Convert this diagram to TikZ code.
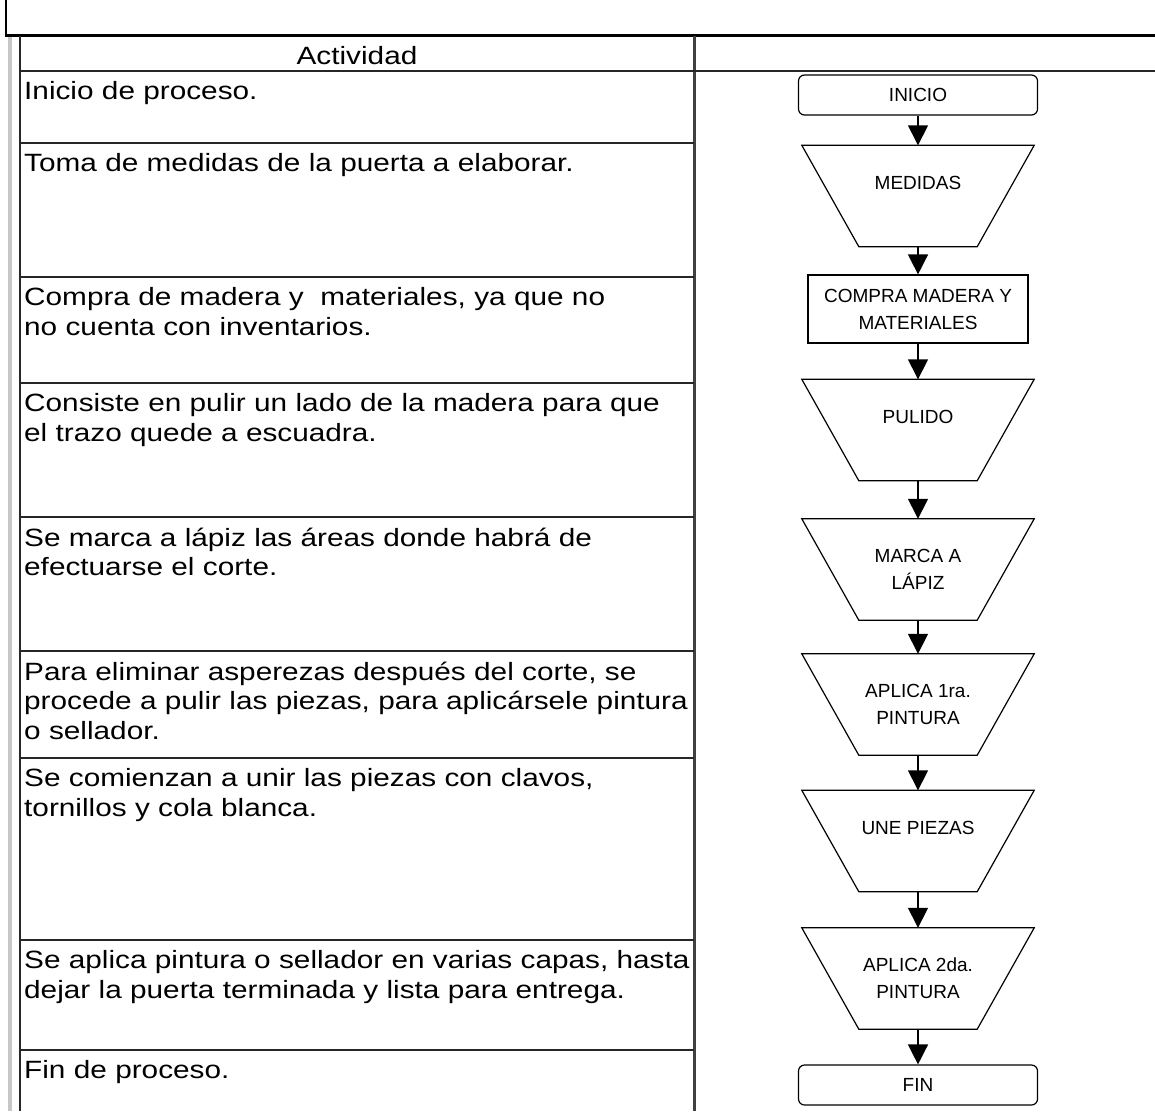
\documentclass[tikz,border=0pt]{standalone}
\usepackage{fontspec}
\setmainfont{Liberation Sans}
\newfontfamily\celltext[FakeStretch=1.19]{Liberation Sans}
\usetikzlibrary{arrows.meta}

\begin{document}
\begin{tikzpicture}[
    x=1pt, y=-1pt,
    >={Triangle[length=20pt,width=20pt]},
    rule/.style={draw=black!85, line width=2pt},
    shade line/.style={draw=black!22, line width=4pt},
    cell/.style={anchor=north west, inner sep=0pt, text width=690pt, align=left,
      font=\celltext\fontsize{25}{29.5}\selectfont},
    flow/.style={align=center, font=\fontsize{19}{27}\selectfont},
    terminal/.style={flow, draw, line width=1.2pt, rounded corners=6pt,
      minimum width=239pt, minimum height=40pt},
    process/.style={flow, draw, line width=1.2pt, minimum width=220pt, minimum height=68pt},
    hopper/.style={flow, inner sep=0pt, minimum width=232pt, minimum height=101pt},
    link/.style={line width=1.5pt, ->}
  ]

  \useasboundingbox (0,0) rectangle (1155,1111);
  \fill[white] (0,0) rectangle (1155,1111);

  % frame and table
  \draw[line width=2pt] (6,0) -- (6,35);
  \draw[line width=3pt] (5,35) -- (1155,35);
  \draw[shade line] (10,37) -- (10,1111);
  \draw[rule] (20,36) -- (20,1111);
  \draw[draw=black!75, line width=2.5pt] (694.5,36) -- (694.5,1111);
  \draw[rule] (20,71) -- (1155,71);
  \foreach \y in {143,277,383,517,651,758,940,1050}
    \draw[rule] (20,\y) -- (694,\y);

  \node[font=\celltext\fontsize{25}{29.5}\selectfont, anchor=base] (actividad) at (357,64) {Actividad};

  \foreach \y/\txt [count=\i] in {
      71/{Inicio de proceso.},
      143/{Toma de medidas de la puerta a elaborar.},
      277/{Compra de madera y\ \ materiales, ya que no\\no cuenta con inventarios.},
      383/{Consiste en pulir un lado de la madera para que\\el trazo quede a escuadra.},
      517/{Se marca a lápiz las áreas donde habrá de\\efectuarse el corte.},
      651/{Para eliminar asperezas después del corte, se\\procede a pulir las piezas, para aplicársele pintura\\o sellador.},
      758/{Se comienzan a unir las piezas con clavos,\\tornillos y cola blanca.},
      940/{Se aplica pintura o sellador en varias capas, hasta\\dejar la puerta terminada y lista para entrega.},
      1050/{Fin de proceso.}}
    \node[cell] (act\i) at (24,\y+10.5) {\txt};

  % flow chart
  \node[terminal] (inicio) at (918,95) {INICIO};
  \node[hopper] (medidas) at (918,196) {MEDIDAS\\\mbox{}};
  \node[process] (compra) at (918,309) {COMPRA MADERA Y\\MATERIALES};
  \node[hopper] (pulido) at (918,430) {PULIDO\\\mbox{}};
  \node[hopper] (marca) at (918,569.5) {MARCA A\\LÁPIZ};
  \node[hopper] (pintuno) at (918,704.5) {APLICA 1ra.\\PINTURA};
  \node[hopper] (une) at (918,841) {UNE PIEZAS\\\mbox{}};
  \node[hopper] (pintdos) at (918,978.5) {APLICA 2da.\\PINTURA};
  \node[terminal] (fin) at (918,1085) {FIN};

  \foreach \n in {medidas,pulido,marca,pintuno,une,pintdos}
    \draw[line width=1.2pt] (\n.north west) -- (\n.north east)
      -- ([xshift=-57pt]\n.south east) -- ([xshift=57pt]\n.south west) -- cycle;

  \foreach \a/\b in {inicio/medidas,medidas/compra,compra/pulido,pulido/marca,
      marca/pintuno,pintuno/une,une/pintdos,pintdos/fin}
    \draw[link] (\a.south) -- (\b.north);
\end{tikzpicture}
\end{document}
